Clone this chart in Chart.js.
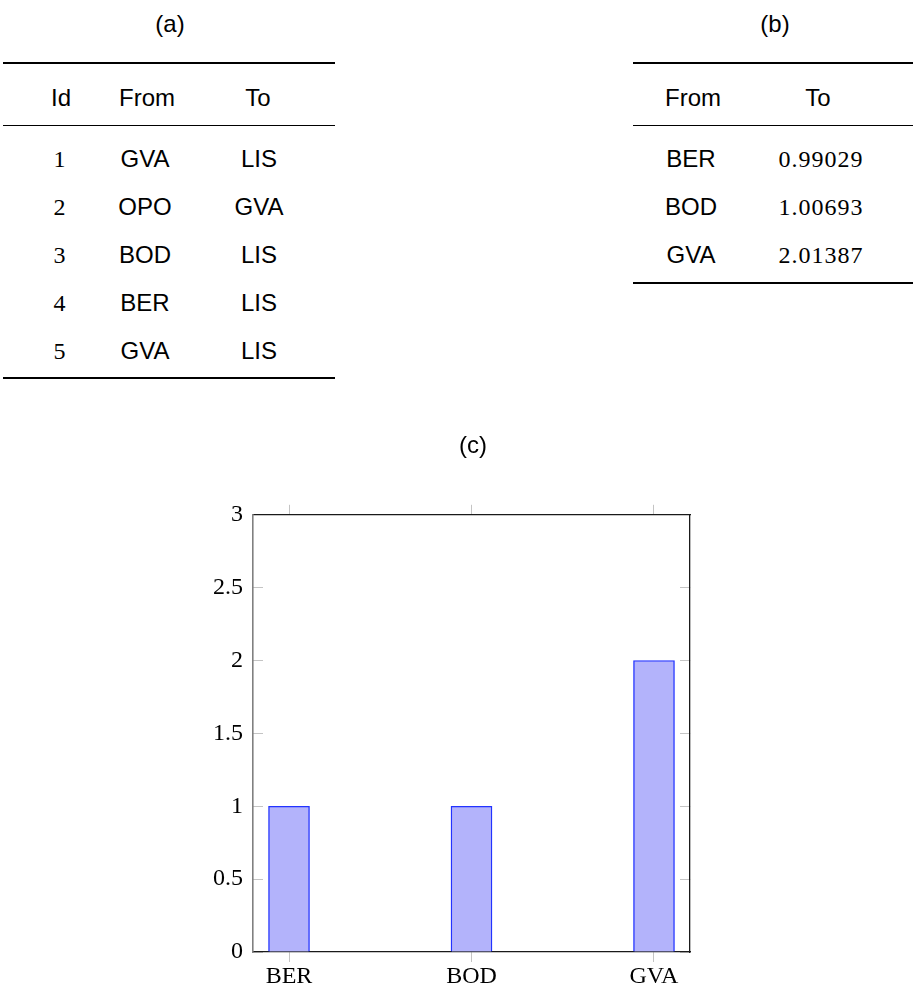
<!DOCTYPE html>
<html>
<head>
<meta charset="utf-8">
<title>Flights</title>
<script src="https://cdn.jsdelivr.net/npm/chart.js@4/dist/chart.umd.min.js"></script>
<style>
  html, body { margin: 0; padding: 0; background: #fff; }
  body { width: 914px; height: 994px; position: relative; overflow: hidden; }
  .t { position: absolute; white-space: nowrap; line-height: 24px; height: 24px; color: #000;
       transform: translateX(-50%); }
  .sans { font-family: "Liberation Sans", Arial, sans-serif; font-size: 24px; }
  .serif { font-family: "Liberation Serif", "Times New Roman", serif; font-size: 24px; letter-spacing: 1px; }
  .rule { position: absolute; background: #000; }
  #chartBox { position: absolute; left: 0; top: 420px; width: 914px; height: 574px; }
</style>
</head>
<body>
<div id="tables"></div>
<div id="chartBox"><canvas id="c" width="914" height="574"></canvas></div>
<script>
// (a) the flight list
const flightIds = [1, 2, 3, 4, 5];
const flightFrom = ['GVA', 'OPO', 'BOD', 'BER', 'GVA'];
const flightTo = ['LIS', 'GVA', 'LIS', 'LIS', 'LIS'];

// (b) per-airport figures
const airportFrom = ['BER', 'BOD', 'GVA'];
const airportTo = ['0.99029', '1.00693', '2.01387'];

// (c) departures per airport
const categories = ['BER', 'BOD', 'GVA'];
const departures = [1, 1, 2];
const yTickValues = [0, 0.5, 1, 1.5, 2, 2.5, 3];

const host = document.getElementById('tables');

function text(str, cls, cx, baseline) {
  const d = document.createElement('div');
  d.className = 't ' + cls;
  d.textContent = str;
  d.style.left = cx + 'px';
  d.style.top = (baseline - 20) + 'px';
  host.appendChild(d);
}
function rule(x1, x2, y, h) {
  const d = document.createElement('div');
  d.className = 'rule';
  d.style.left = x1 + 'px';
  d.style.width = (x2 - x1) + 'px';
  d.style.top = (y - h / 2) + 'px';
  d.style.height = h + 'px';
  host.appendChild(d);
}

const rowStep = 48;
const firstRow = 167;
const headBase = 106;

// table (a)
text('(a)', 'sans', 170, 32);
rule(3, 335, 63, 2);
rule(3, 335, 125, 1);
text('Id', 'sans', 61, headBase);
text('From', 'sans', 147, headBase);
text('To', 'sans', 258, headBase);
flightIds.forEach((id, i) => {
  const y = firstRow + i * rowStep;
  text(String(id), 'serif', 60, y);
  text(flightFrom[i], 'sans', 145, y);
  text(flightTo[i], 'sans', 259, y);
});
rule(3, 335, firstRow + (flightIds.length - 1) * rowStep + 19, 2);

// table (b)
text('(b)', 'sans', 775, 32);
rule(633, 913, 63, 2);
rule(633, 913, 125, 1);
text('From', 'sans', 693, headBase);
text('To', 'sans', 818, headBase);
airportFrom.forEach((a, i) => {
  const y = firstRow + i * rowStep;
  text(a, 'sans', 691, y);
  text(airportTo[i], 'serif', 821, y);
});
rule(633, 913, firstRow + (airportFrom.length - 1) * rowStep + 20, 2);

// chart (c)
const edge = 0.1973;
const tickGrey = '#c4c4c4';
const catTicks = (s) => { s.ticks = categories.map((_, i) => ({ value: i })); };
const serifFont = { family: '"Liberation Serif", "Times New Roman", serif', size: 24 };

new Chart(document.getElementById('c'), {
  type: 'bar',
  data: {
    datasets: [{
      data: departures.map((v, i) => ({ x: i, y: v })),
      backgroundColor: '#b3b3fb',
      borderColor: '#2233ff',
      borderWidth: 1.4,
      barThickness: 41
    }]
  },
  options: {
    responsive: false,
    animation: false,
    layout: { padding: { left: 42, right: 10, top: 0, bottom: 0 } },
    plugins: {
      legend: { display: false },
      tooltip: { enabled: false },
      title: {
        display: true,
        text: '(c)',
        color: '#000',
        font: { family: '"Liberation Sans", Arial, sans-serif', size: 24, weight: 'normal' },
        padding: { top: 12, bottom: 54 }
      }
    },
    scales: {
      x: {
        type: 'linear',
        position: 'bottom',
        min: -edge, max: categories.length - 1 + edge,
        offset: false,
        afterBuildTicks: catTicks,
        afterFit: (s) => { s.height = 42; },
        grid: { drawOnChartArea: false, drawTicks: true, tickLength: 10, color: tickGrey, offset: false },
        border: { display: true, color: '#1a1a1a', width: 1.3 },
        ticks: { color: '#000', font: serifFont, padding: 0, maxRotation: 0,
                 callback: (v) => categories[v] }
      },
      x2: {
        type: 'linear',
        position: 'top',
        min: -edge, max: categories.length - 1 + edge,
        offset: false,
        afterBuildTicks: catTicks,
        afterFit: (s) => { s.height = 0; },
        grid: { drawOnChartArea: false, drawTicks: true, tickLength: 10, color: tickGrey, offset: false },
        border: { display: true, color: '#1a1a1a', width: 1.3 },
        ticks: { display: false }
      },
      y: {
        type: 'linear',
        position: 'left',
        min: 0, max: 3,
        afterBuildTicks: (s) => { s.ticks = yTickValues.map(v => ({ value: v })); },
        afterFit: (s) => { s.width = 211; },
        grid: { drawOnChartArea: false, drawTicks: true, tickLength: -10, color: tickGrey },
        border: { display: true, color: '#808080', width: 1.6 },
        ticks: { color: '#000', font: serifFont, padding: 20, callback: (v) => String(v) }
      },
      y2: {
        type: 'linear',
        position: 'right',
        min: 0, max: 3,
        afterBuildTicks: (s) => { s.ticks = yTickValues.map(v => ({ value: v })); },
        afterFit: (s) => { s.width = 214; },
        grid: { drawOnChartArea: false, drawTicks: true, tickLength: -10, color: tickGrey },
        border: { display: true, color: '#1a1a1a', width: 1.3 },
        ticks: { display: false }
      }
    }
  }
});
</script>
</body>
</html>
